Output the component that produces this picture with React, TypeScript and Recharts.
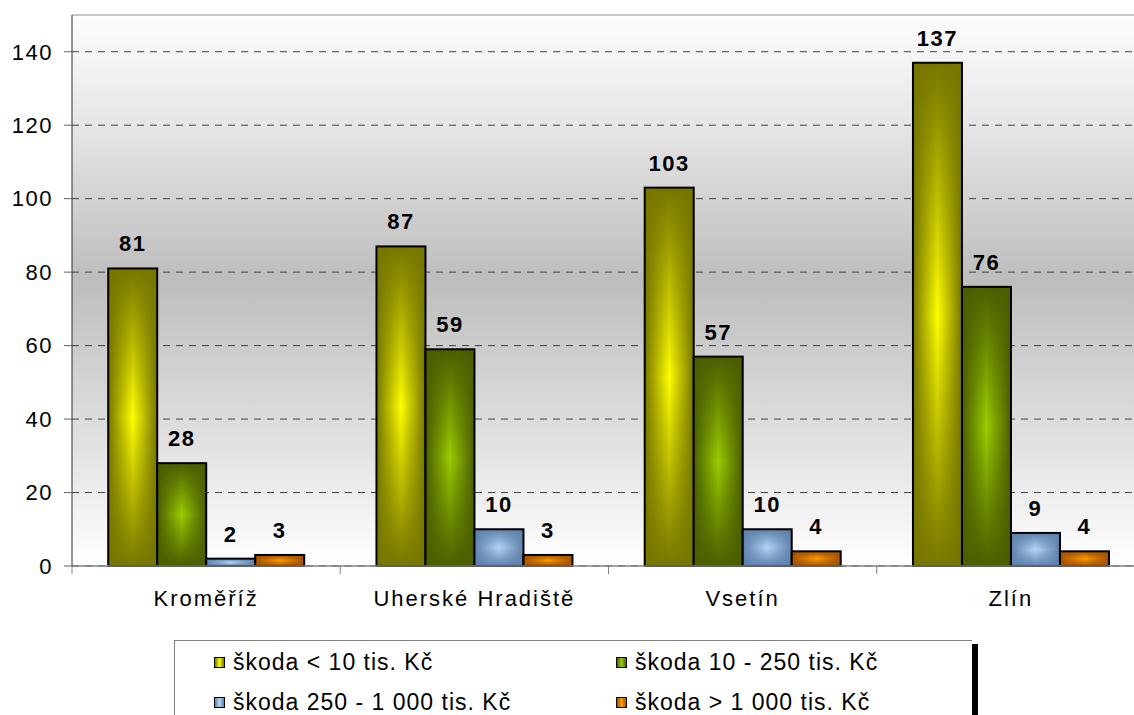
import React from "react";
import { Bar, BarChart, CartesianGrid, LabelList, Legend, ReferenceLine, XAxis, YAxis } from "recharts";

const okresy = ["Kroměříž", "Uherské Hradiště", "Vsetín", "Zlín"];
const skodaDo10 = [81, 87, 103, 137];
const skoda10az250 = [28, 59, 57, 76];
const skoda250az1000 = [2, 10, 10, 9];
const skodaNad1000 = [3, 3, 4, 4];
const osaY = [0, 20, 40, 60, 80, 100, 120, 140];

const serie = [
  { key: "a", name: "škoda < 10 tis. Kč", edge: "#767600", mid: "#ffff00" },
  { key: "b", name: "škoda 10 - 250 tis. Kč", edge: "#4a5e00", mid: "#9ccc00" },
  { key: "c", name: "škoda 250 - 1 000 tis. Kč", edge: "#5f82ad", mid: "#b4d6f6" },
  { key: "d", name: "škoda > 1 000 tis. Kč", edge: "#a35200", mid: "#ff9a00" },
];

const data = okresy.map((okres, i) => ({
  okres,
  a: skodaDo10[i],
  b: skoda10az250[i],
  c: skoda250az1000[i],
  d: skodaNad1000[i],
}));

const FONT = "'Liberation Sans', Arial, sans-serif";

// sloupec s "leskem" - vodorovny prechod + ztmaveni nahore a dole
const makeShape = (key: string) => (props: any) => {
  const { x, y, width, height } = props;
  if (!height || height <= 0) return <g />;
  return (
    <g>
      <rect x={x} y={y} width={width} height={height} fill={`url(#h-${key})`} />
      <rect x={x} y={y} width={width} height={height} fill={`url(#v-${key})`} />
      <rect x={x} y={y} width={width} height={height} fill="none" stroke="#000" strokeWidth={2} />
    </g>
  );
};

const OsaXTick = (props: any) => {
  const { x, y, payload, index } = props;
  const half = payload && payload.offset ? payload.offset : 134;
  return (
    <g>
      <line x1={x - half} y1={y} x2={x - half} y2={y + 8} stroke="#808080" />
      {index === okresy.length - 1 && (
        <line x1={x + half} y1={y} x2={x + half} y2={y + 8} stroke="#808080" />
      )}
      <text
        x={x}
        y={y + 40}
        textAnchor="middle"
        fontSize={22}
        fontFamily={FONT}
        fill="#000"
        style={{ letterSpacing: 2 }}
      >
        {payload.value}
      </text>
    </g>
  );
};

const Legenda = () => {
  const pos = [
    { left: 39, top: 16 },
    { left: 441, top: 16 },
    { left: 39, top: 56 },
    { left: 441, top: 56 },
  ];
  return (
    <div
      style={{
        position: "relative",
        width: 797,
        height: 90,
        background: "#fff",
        borderTop: "1px solid #808080",
        borderLeft: "1px solid #808080",
        boxShadow: "6px 4px 0 0 #000",
        fontFamily: FONT,
        fontSize: 23,
        letterSpacing: 1,
        color: "#000",
      }}
    >
      {serie.map((s, i) => (
        <React.Fragment key={s.key}>
          <span
            style={{
              position: "absolute",
              left: pos[i].left,
              top: pos[i].top,
              width: 9,
              height: 9,
              border: "1.5px solid #000",
              background: `linear-gradient(90deg, ${s.edge}, ${s.mid} 50%, ${s.edge})`,
            }}
          />
          <span
            style={{
              position: "absolute",
              left: pos[i].left + 19,
              top: pos[i].top - 8,
              lineHeight: "26px",
              whiteSpace: "nowrap",
            }}
          >
            {s.name}
          </span>
        </React.Fragment>
      ))}
    </div>
  );
};

const App: React.FC = () => {
  return (
    <div style={{ position: "absolute", left: 0, top: 0, width: 1134, height: 715, background: "#fff", overflow: "hidden" }}>
      <BarChart
        width={1145}
        height={715}
        data={data}
        margin={{ top: 15, right: 0, left: 0, bottom: 119 }}
        barCategoryGap="13.5%"
        barGap={0}
      >
        <defs>
          <linearGradient id="bg" x1="0" y1="0" x2="0" y2="1">
            <stop offset="0%" stopColor="#fdfdfd" />
            <stop offset="20%" stopColor="#e6e6e6" />
            <stop offset="48%" stopColor="#bdbdbd" />
            <stop offset="80%" stopColor="#e4e4e4" />
            <stop offset="100%" stopColor="#ffffff" />
          </linearGradient>
          {serie.map((s) => (
            <React.Fragment key={s.key}>
              <linearGradient id={`h-${s.key}`} x1="0" y1="0" x2="1" y2="0">
                <stop offset="0%" stopColor={s.edge} />
                <stop offset="50%" stopColor={s.mid} />
                <stop offset="100%" stopColor={s.edge} />
              </linearGradient>
              <linearGradient id={`v-${s.key}`} x1="0" y1="0" x2="0" y2="1">
                <stop offset="0%" stopColor={s.edge} stopOpacity={1} />
                <stop offset="50%" stopColor={s.edge} stopOpacity={0} />
                <stop offset="100%" stopColor={s.edge} stopOpacity={1} />
              </linearGradient>
            </React.Fragment>
          ))}
        </defs>
        <CartesianGrid vertical={false} fill="url(#bg)" stroke="#404040" strokeDasharray="7 6" />
        <ReferenceLine y={150} stroke="#c8c8c8" strokeWidth={2} />
        <XAxis
          dataKey="okres"
          height={30}
          tickSize={0}
          tickMargin={0}
          tickLine={false}
          axisLine={{ stroke: "#808080", strokeWidth: 1.5 }}
          tick={<OsaXTick />}
          interval={0}
        />
        <YAxis
          width={72}
          domain={[0, 150]}
          ticks={osaY}
          interval={0}
          tickSize={8}
          tickMargin={11}
          axisLine={{ stroke: "#303030" }}
          tickLine={{ stroke: "#606060" }}
          tick={{ fontSize: 22, fontFamily: FONT, fill: "#000", style: { letterSpacing: 1.5 } }}
        />
        <Legend
          layout="horizontal"
          verticalAlign="middle"
          align="center"
          wrapperStyle={{ position: "absolute", left: 174, top: 640, width: 805, height: 100 }}
          content={<Legenda />}
        />
        {serie.map((s) => (
          <Bar key={s.key} dataKey={s.key} name={s.name} fill={s.mid} shape={makeShape(s.key)} isAnimationActive={false}>
            <LabelList
              dataKey={s.key}
              position="top"
              offset={17}
              style={{ fontSize: 22, fontWeight: "bold", fontFamily: FONT, fill: "#000", letterSpacing: 1.5 }}
            />
          </Bar>
        ))}
      </BarChart>
    </div>
  );
};

export default App;
